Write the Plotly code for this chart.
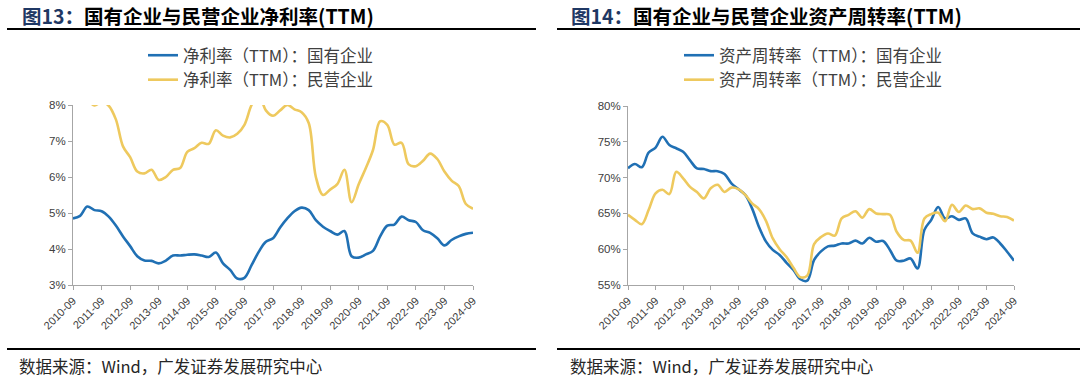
import plotly.graph_objects as go

# Quarterly TTM data, 2010-09 .. 2024-09
quarters = [f"{y}-{m:02d}" for y in range(2010, 2025) for m in (3, 6, 9, 12)]
quarters = quarters[quarters.index("2010-09"):quarters.index("2024-09") + 1]
year_ticks = [q for q in quarters if q.endswith("-09")]

# Fig 13: net margin (TTM), %
soe_margin = [4.85, 4.92, 5.18, 5.08, 5.05, 4.90, 4.65, 4.35, 4.08, 3.80,
              3.68, 3.67, 3.60, 3.68, 3.82, 3.82, 3.84, 3.85, 3.82, 3.78,
              3.90, 3.60, 3.42, 3.18, 3.20, 3.55, 3.92, 4.20, 4.30, 4.60,
              4.85, 5.05, 5.15, 5.08, 4.80, 4.62, 4.50, 4.40, 4.50, 3.80,
              3.76, 3.85, 3.95, 4.35, 4.65, 4.68, 4.90, 4.80, 4.75, 4.52,
              4.45, 4.30, 4.10, 4.25, 4.35, 4.42, 4.45]
pe_margin = [8.60, 8.40, 8.15, 7.99, 8.08, 7.98, 7.60, 6.85, 6.55, 6.15,
             6.10, 6.20, 5.92, 6.00, 6.20, 6.25, 6.70, 6.80, 6.95, 6.92,
             7.30, 7.15, 7.10, 7.20, 7.45, 8.00, 8.30, 7.85, 7.70, 7.85,
             8.00, 7.88, 7.80, 7.50, 6.00, 5.50, 5.65, 5.80, 6.20, 5.30,
             5.80, 6.25, 6.75, 7.55, 7.45, 6.90, 6.95, 6.35, 6.30, 6.45,
             6.65, 6.50, 6.15, 5.90, 5.75, 5.25, 5.12]

# Fig 14: asset turnover (TTM), %
soe_turnover = [71.3, 71.9, 71.45, 73.5, 74.2, 75.7, 74.55, 74.1, 73.6, 72.4,
                71.3, 71.2, 70.9, 70.9, 70.5, 69.2, 68.4, 67.6, 65.7, 63.1,
                61.1, 59.9, 59.2, 58.1, 57.1, 55.8, 55.6, 58.5, 59.7, 60.4,
                60.5, 60.8, 60.8, 61.2, 60.8, 61.6, 61.05, 61.15, 59.9, 58.4,
                58.4, 58.7, 57.3, 62.7, 64.1, 65.9, 64.3, 64.6, 64.1, 64.3,
                62.2, 61.75, 61.4, 61.65, 60.8, 59.65, 58.4]
pe_turnover = [64.8, 64.1, 63.5, 65.5, 67.8, 68.3, 67.7, 70.8, 69.9, 68.7,
               68.0, 67.1, 68.5, 69.0, 68.0, 68.6, 68.4, 67.6, 66.4, 65.6,
               64.0, 61.5, 60.0, 58.9, 57.4, 56.1, 56.3, 60.7, 61.7, 62.2,
               61.9, 64.3, 64.8, 65.3, 64.4, 65.6, 65.0, 64.9, 64.8, 62.4,
               61.3, 61.2, 59.5, 64.3, 64.9, 65.1, 63.9, 66.2, 65.2, 66.1,
               65.6, 65.7, 65.1, 64.95, 64.6, 64.5, 64.0]

margin_ticks = [3, 4, 5, 6, 7, 8]
margin_labels = ["3%", "4%", "5%", "6%", "7%", "8%"]
turnover_ticks = [55, 60, 65, 70, 75, 80]
turnover_labels = ["55%", "60%", "65%", "70%", "75%", "80%"]

BLUE = "#2070B4"
YELLOW = "#EEC95E"
AXIS = "#A6A6A6"
W, H = 1080, 379
CJK = "Noto Sans CJK SC"

fig = go.Figure()

def line(x, y, name, color, xa, ya, legend):
    fig.add_trace(go.Scatter(
        x=x, y=y, name=name, mode="lines",
        line=dict(color=color, width=2.6, shape="spline", smoothing=1.0),
        xaxis=xa, yaxis=ya, legend=legend, hoverinfo="skip"))

line(quarters, soe_margin, "净利率（TTM）：国有企业", BLUE, "x", "y", "legend")
line(quarters, pe_margin, "净利率（TTM）：民营企业", YELLOW, "x", "y", "legend")
line(quarters, soe_turnover, "资产周转率（TTM）：国有企业", BLUE, "x2", "y2", "legend2")
line(quarters, pe_turnover, "资产周转率（TTM）：民营企业", YELLOW, "x2", "y2", "legend2")

def px(v):  # horizontal pixel -> paper
    return v / W

def py(v):  # vertical pixel from top -> paper
    return 1 - v / H

xcommon = dict(type="category", range=[0, len(quarters) - 1], automargin=False,
               tickvals=year_ticks, ticktext=year_ticks, tickangle=-45,
               showline=True, linecolor=AXIS, linewidth=1,
               ticks="outside", ticklen=4, tickcolor=AXIS,
               showgrid=False, zeroline=False,
               tickfont=dict(family="Liberation Sans, Arial", size=11, color="#404040"))
ycommon = dict(showline=True, linecolor=AXIS, linewidth=1, automargin=False,
               ticks="outside", ticklen=4, tickcolor=AXIS,
               showgrid=False, zeroline=False,
               tickfont=dict(family="Liberation Sans, Arial", size=11.5, color="#404040"))

fig.update_layout(
    width=W, height=H,
    margin=dict(l=0, r=0, t=0, b=0, autoexpand=False),
    paper_bgcolor="white", plot_bgcolor="white",
    xaxis=dict(domain=[px(73), px(473)], anchor="y", **xcommon),
    yaxis=dict(domain=[py(285), py(105)], anchor="x", range=[3, 8],
               tickvals=margin_ticks, ticktext=margin_labels, **ycommon),
    xaxis2=dict(domain=[px(628), px(1014)], anchor="y2", **xcommon),
    yaxis2=dict(domain=[py(285), py(106)], anchor="x2", range=[55, 80],
                tickvals=turnover_ticks, ticktext=turnover_labels, **ycommon),
    legend=dict(x=px(143), y=py(38), xanchor="left", yanchor="top",
                bgcolor="rgba(0,0,0,0)", tracegroupgap=0,
                font=dict(family=CJK, size=16.5, color="#404040")),
    legend2=dict(x=px(679), y=py(38), xanchor="left", yanchor="top",
                 bgcolor="rgba(0,0,0,0)", tracegroupgap=0,
                 font=dict(family=CJK, size=16.5, color="#404040")),
    showlegend=True,
)

titles = [
    (20, "图13：", "国有企业与民营企业净利率(TTM)"),
    (569, "图14：", "国有企业与民营企业资产周转率(TTM)"),
]
for x0, head, rest in titles:
    fig.add_annotation(
        x=px(x0), y=py(15), xref="paper", yref="paper",
        xanchor="left", yanchor="middle", showarrow=False,
        text=f"<b><span style='color:#1F3864'>{head}</span>{rest}</b>",
        font=dict(family=CJK, size=19.5, color="#000000"))

for x0 in (17, 568):
    fig.add_annotation(
        x=px(x0), y=py(366), xref="paper", yref="paper",
        xanchor="left", yanchor="middle", showarrow=False,
        text="数据来源：Wind，广发证券发展研究中心",
        font=dict(family=CJK, size=16.5, color="#262626"))

for xa, xb in ((7, 536), (557, 1080)):
    for yy in (29, 349):
        fig.add_shape(type="line", xref="paper", yref="paper",
                      x0=px(xa), x1=px(xb), y0=py(yy), y1=py(yy),
                      line=dict(color="#000000", width=2))

fig.write_html("out.html", config={"displayModeBar": False},
               post_script="document.body.style.margin='0';document.body.style.overflow='hidden';")
